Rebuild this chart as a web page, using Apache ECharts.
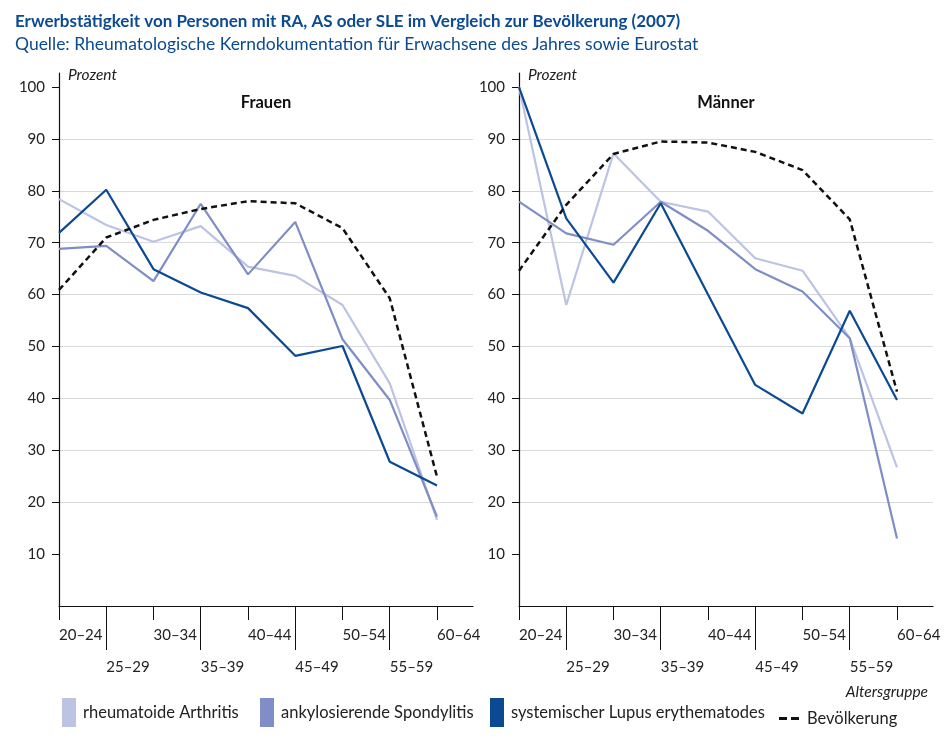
<!DOCTYPE html>
<html>
<head>
<meta charset="utf-8">
<script src="https://cdn.jsdelivr.net/npm/echarts@6/dist/echarts.min.js"></script>
<style>
  html, body { margin: 0; padding: 0; background: #fff; }
  #chart { width: 952px; height: 740px; }
</style>
</head>
<body>
<div id="chart"></div>
<script>
// Altersgruppen (x-Achse)
const ageGroups = ['20–24', '25–29', '30–34', '35–39', '40–44', '45–49', '50–54', '55–59', '60–64'];
const yTicks = [10, 20, 30, 40, 50, 60, 70, 80, 90, 100];

// Frauen
const raFrauen = [78.4, 73.4, 70.2, 73.2, 65.4, 63.6, 58.0, 42.9, 16.6];
const asFrauen = [68.8, 69.4, 62.6, 77.5, 63.9, 74.0, 51.4, 39.7, 17.2];
const sleFrauen = [71.9, 80.2, 64.9, 60.4, 57.4, 48.2, 50.1, 27.8, 23.2];
const bevFrauen = [60.9, 71.0, 74.4, 76.5, 78.0, 77.6, 72.8, 59.3, 24.9];

// Männer
const raMaenner = [100, 58.0, 87.2, 77.9, 76.0, 67.0, 64.6, 51.6, 26.7];
const asMaenner = [77.9, 71.8, 69.6, 77.9, 72.3, 64.9, 60.6, 51.6, 13.0];
const sleMaenner = [100, 74.7, 62.3, 77.6, 60.0, 42.6, 37.1, 56.9, 39.7];
const bevMaenner = [64.6, 77.3, 87.1, 89.5, 89.3, 87.5, 84.0, 74.5, 41.3];

const names = ['rheumatoide Arthritis', 'ankylosierende Spondylitis', 'systemischer Lupus erythematodes', 'Bevölkerung'];
const colors = ['#bcc3e3', '#7f8ec6', '#0b4a93', '#111111'];

const FONT = 'Lato';
const evenIdx = [0, 2, 4, 6, 8];
const oddIdx = [1, 3, 5, 7];

function toPoints(arr) {
  return arr.map((v, i) => [i, v]);
}

function xAxes(gridIndex) {
  const base = {
    type: 'value',
    gridIndex: gridIndex,
    min: 0,
    max: 8.762,
    position: 'bottom',
    splitLine: { show: false }
  };
  return [
    Object.assign({}, base, {
      axisLine: { show: true, lineStyle: { color: '#111', width: 1.2 } },
      axisTick: { show: true, customValues: evenIdx, length: 14, lineStyle: { color: '#111', width: 1 } },
      axisLabel: {
        customValues: evenIdx, formatter: v => ageGroups[Math.round(v)],
        align: 'left', margin: 22, fontFamily: FONT, fontSize: 15, color: '#222'
      }
    }),
    Object.assign({}, base, {
      axisLine: { show: false },
      axisTick: { show: true, customValues: oddIdx, length: 44, lineStyle: { color: '#111', width: 1 } },
      axisLabel: {
        customValues: oddIdx, formatter: v => ageGroups[Math.round(v)],
        align: 'left', margin: 54, fontFamily: FONT, fontSize: 15, color: '#222'
      }
    })
  ];
}

function yAxis(gridIndex) {
  return {
    type: 'value',
    gridIndex: gridIndex,
    min: 0,
    max: 102.7,
    interval: 10,
    axisLine: { show: true, lineStyle: { color: '#111', width: 1.2 } },
    axisTick: { show: true, customValues: yTicks, length: 7, lineStyle: { color: '#111' } },
    axisLabel: { customValues: yTicks, margin: 14, fontFamily: FONT, fontSize: 15, color: '#222' },
    splitLine: { show: true, showMinLine: false, showMaxLine: false, lineStyle: { color: '#d9d9d9', width: 1 } }
  };
}

function lineSeries(name, data, xIdx, yIdx, color, dashed) {
  return {
    name: name,
    type: 'line',
    xAxisIndex: xIdx,
    yAxisIndex: yIdx,
    data: toPoints(data),
    symbol: 'none',
    color: color,
    lineStyle: { color: color, width: dashed ? 2.5 : 2.2, type: dashed ? [6, 4] : 'solid' },
    silent: true,
    animation: false
  };
}

// one legend per entry so each sits where it does in the original
function legendItem(name, left, top, icon, w, h) {
  return {
    data: [name],
    left: left, top: top,
    padding: 0,
    icon: icon, itemWidth: w, itemHeight: h,
    selectedMode: false,
    textStyle: { fontFamily: FONT, fontSize: 16.5, color: '#222', padding: h > 10 ? [12, 0, 0, 2] : [0, 0, 0, 3] }
  };
}

const chart = echarts.init(document.getElementById('chart'), null, { renderer: 'canvas' });

const option = {
  animation: false,
  title: [
    {
      text: 'Erwerbstätigkeit von Personen mit RA, AS oder SLE im Vergleich zur Bevölkerung (2007)',
      left: 10, top: 8,
      textStyle: { fontFamily: FONT, fontSize: 17, fontWeight: 'bold', color: '#0c4a91' }
    },
    {
      text: 'Quelle: Rheumatologische Kerndokumentation für Erwachsene des Jahres sowie Eurostat',
      left: 10, top: 30,
      textStyle: { fontFamily: FONT, fontSize: 17.5, fontWeight: 'normal', color: '#0c4a91' }
    }
  ],
  grid: [
    { left: 59, top: 73, width: 414, height: 533 },
    { left: 519, top: 73, width: 414, height: 533 }
  ],
  xAxis: xAxes(0).concat(xAxes(1)),
  yAxis: [yAxis(0), yAxis(1)],
  legend: [
    legendItem(names[0], 62, 698, 'rect', 14, 29),
    legendItem(names[1], 260, 698, 'rect', 14, 29),
    legendItem(names[2], 490, 698, 'rect', 14, 29),
    legendItem(names[3], 779, 710, 'path://M0 0h8v3H0z M12 0h8v3h-8z', 20, 3)
  ],
  graphic: [
    { type: 'text', left: 68, top: 67, style: { text: 'Prozent', font: 'italic 15.5px ' + FONT, fill: '#222' } },
    { type: 'text', left: 528, top: 67, style: { text: 'Prozent', font: 'italic 15.5px ' + FONT, fill: '#222' } },
    { type: 'text', x: 266, y: 103, style: { text: 'Frauen', font: 'bold 16.5px ' + FONT, fill: '#111', align: 'center', verticalAlign: 'middle' } },
    { type: 'text', x: 726, y: 103, style: { text: 'Männer', font: 'bold 16.5px ' + FONT, fill: '#111', align: 'center', verticalAlign: 'middle' } },
    { type: 'text', x: 928, y: 692, style: { text: 'Altersgruppe', font: 'italic 15.5px ' + FONT, fill: '#222', align: 'right', verticalAlign: 'middle' } }
  ],
  series: [
    lineSeries(names[0], raFrauen, 0, 0, colors[0], false),
    lineSeries(names[1], asFrauen, 0, 0, colors[1], false),
    lineSeries(names[2], sleFrauen, 0, 0, colors[2], false),
    lineSeries(names[3], bevFrauen, 0, 0, colors[3], true),
    lineSeries(names[0], raMaenner, 2, 1, colors[0], false),
    lineSeries(names[1], asMaenner, 2, 1, colors[1], false),
    lineSeries(names[2], sleMaenner, 2, 1, colors[2], false),
    lineSeries(names[3], bevMaenner, 2, 1, colors[3], true)
  ]
};

chart.setOption(option);
</script>
</body>
</html>
